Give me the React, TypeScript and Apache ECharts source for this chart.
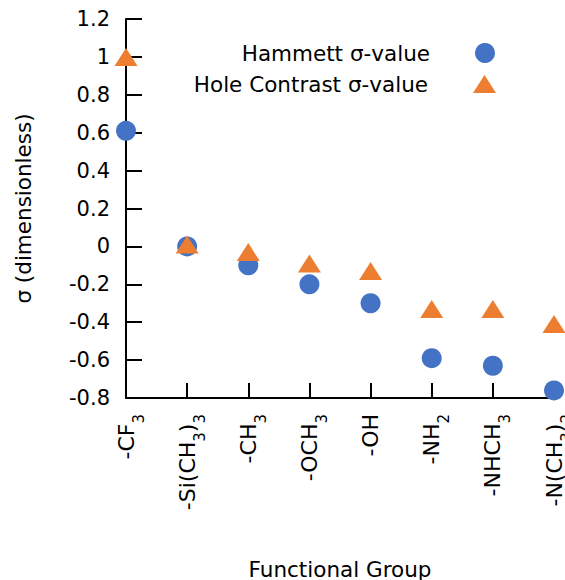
import React, { useEffect, useRef } from 'react';
import * as echarts from 'echarts';

const categories = ['-CF3', '-Si(CH3)3', '-CH3', '-OCH3', '-OH', '-NH2', '-NHCH3', '-N(CH3)2'];
const hammett = [0.61, 0.0, -0.1, -0.2, -0.3, -0.59, -0.63, -0.76];
const holeContrast = [1.0, 0.01, -0.03, -0.09, -0.13, -0.33, -0.33, -0.41];
const seriesNames = ['Hammett σ-value', 'Hole Contrast σ-value'];
const yMin = -0.8;
const yMax = 1.2;
const yStep = 0.2;
const xTitle = 'Functional Group';
const yTitle = 'σ (dimensionless)';

const FONT = '"DejaVu Sans", Verdana, sans-serif';

function toRich(value: string): string {
  return value
    .split(/(\d)/)
    .filter((p) => p.length > 0)
    .map((p) => (/^\d$/.test(p) ? `{s|${p}}` : `{n|${p}}`))
    .join('');
}

export default function App() {
  const ref = useRef<HTMLDivElement>(null);
  useEffect(() => {
    document.body.style.margin = '0';
    if (!ref.current) return;
    const chart = echarts.init(ref.current, undefined, { renderer: 'svg' });
    const axisColor = '#000';
    chart.setOption({
      animation: false,
      backgroundColor: '#fff',
      textStyle: { fontFamily: FONT, color: '#000' },
      grid: { left: 126, right: 11, top: 19, bottom: 182, containLabel: false, outerBoundsMode: 'none' },
      legend: [
        {
          data: [seriesNames[0]],
          orient: 'vertical',
          align: 'right',
          right: 70,
          top: 42,
          padding: 0,
          itemWidth: 20,
          itemHeight: 20,
          selectedMode: false,
          textStyle: { fontSize: 21.5, color: '#000', fontFamily: FONT, padding: [0, 40, 0, 0] },
        },
        {
          data: [seriesNames[1]],
          orient: 'vertical',
          align: 'right',
          right: 69,
          top: 73,
          padding: 0,
          itemWidth: 23,
          itemHeight: 18,
          selectedMode: false,
          textStyle: { fontSize: 21.5, color: '#000', fontFamily: FONT, padding: [0, 40, 0, 0] },
        },
      ],
      xAxis: {
        type: 'category',
        data: categories,
        boundaryGap: false,
        name: xTitle,
        nameLocation: 'middle',
        nameGap: 160,
        nameTextStyle: { fontSize: 21.5, color: '#000', fontFamily: FONT },
        axisLine: { show: true, onZero: false, lineStyle: { color: axisColor, width: 2 } },
        axisTick: { show: true, inside: true, length: 15, interval: 0, lineStyle: { color: axisColor, width: 2 } },
        axisLabel: {
          interval: 0,
          rotate: 90,
          margin: 16,
          hideOverlap: false,
          formatter: (v: string) => toRich(v),
          rich: {
            n: { fontSize: 22, lineHeight: 40, color: '#000', fontFamily: FONT },
            s: { fontSize: 15, color: '#000', fontFamily: FONT, verticalAlign: 'bottom' },
          },
        },
        splitLine: { show: false },
      },
      yAxis: {
        type: 'value',
        min: yMin,
        max: yMax,
        interval: yStep,
        name: yTitle,
        nameLocation: 'middle',
        nameGap: 92,
        nameTextStyle: { fontSize: 21.5, color: '#000', fontFamily: FONT },
        axisLine: { show: true, onZero: false, lineStyle: { color: axisColor, width: 2 } },
        axisTick: { show: true, inside: true, length: 16, lineStyle: { color: axisColor, width: 2 } },
        axisLabel: { fontSize: 21, color: '#000', margin: 16, fontFamily: FONT },
        splitLine: { show: false },
      },
      series: [
        {
          name: seriesNames[0],
          type: 'scatter',
          data: hammett,
          symbol: 'circle',
          symbolSize: 20,
          clip: false,
          itemStyle: { color: '#4472C4', opacity: 1 },
          z: 2,
        },
        {
          name: seriesNames[1],
          type: 'scatter',
          data: holeContrast,
          symbol: 'triangle',
          symbolSize: [23, 18],
          clip: false,
          itemStyle: { color: '#ED7D31', opacity: 1 },
          z: 3,
        },
      ],
    });
    return () => chart.dispose();
  }, []);
  return <div ref={ref} style={{ width: 565, height: 580 }} />;
}
